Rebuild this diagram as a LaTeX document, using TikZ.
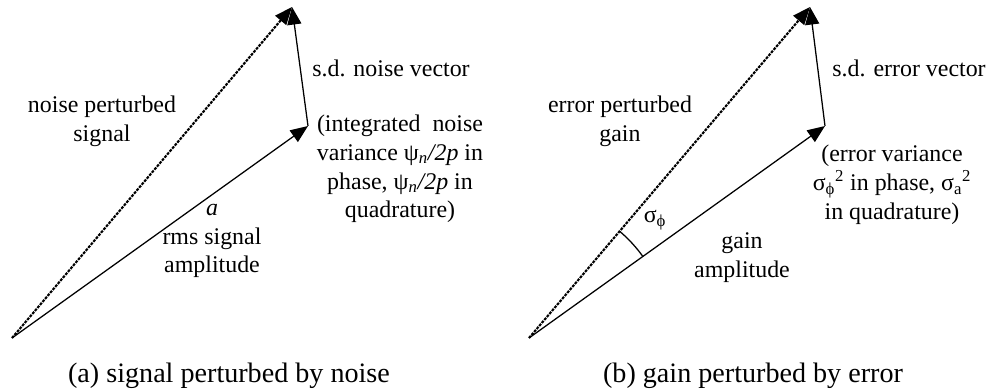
\documentclass[tikz,border=0pt]{standalone}
\usepackage{fontspec}
\setmainfont{Liberation Serif}
\usetikzlibrary{calc, positioning}
\usetikzlibrary{angles, quotes}
\usetikzlibrary{arrows.meta}

\tikzset{
  vec/.style={-{Triangle[length=12.5pt, width=10pt]}, line width=0.9pt},
  pvec/.style={vec, dash pattern=on 2pt off 0.8pt, line width=1.5pt},
  lbl/.style={align=center, font=\fontsize{17}{20.5}\selectfont, inner sep=0pt},
  capt/.style={font=\fontsize{20}{24}\selectfont, inner sep=0pt},
}

\begin{document}
\begin{tikzpicture}[x=0.025cm, y=-0.025cm]
\useasboundingbox (0,0) rectangle (990,392);

% (a) signal with noise
\coordinate (Oa) at (12,338);
\coordinate (Sa) at (308,126);
\coordinate (Pa) at (292,7);

\draw[vec] (Oa) -- (Sa);
\draw[vec] (Sa) -- (Pa);
\draw[pvec] (Oa) -- (Pa);

\node[lbl] (npert) at (102,121) {noise perturbed\\signal};
\node[lbl] (sdnoise) at (391,68) {s.d. noise vector};
\node[lbl] (intnoise) at (400,169) {(integrated~ noise\\variance ψ\textsubscript{\textit{n}}\textit{/2p} in\\phase, ψ\textsubscript{\textit{n}}\textit{/2p} in\\quadrature)};
\node[lbl] (rms) at (212,241) {\textit{a}\\rms signal\\amplitude};
\node[capt] (capa) at (229,376) {(a) signal perturbed by noise};

% (b) gain with error
\coordinate (Ob) at (529,338);
\coordinate (Gb) at (825,126);
\coordinate (Pb) at (810,7);

\draw[vec] (Ob) -- (Gb);
\draw[vec] (Gb) -- (Pb);
\draw[pvec] (Ob) -- (Pb);
\pic[draw, line width=0.9pt, angle radius=3.5cm] {angle = Gb--Ob--Pb};

\node[lbl] (epert) at (620,121) {error perturbed\\gain};
\node[lbl] (sderr) at (909,68) {s.d. error vector};
\node[lbl] (errvar) at (892,185) {(error variance\\σ\textsubscript{ϕ}\textsuperscript{2} in phase, σ\textsubscript{a}\textsuperscript{2}\\in quadrature)};
\node[lbl] (sigphi) at (655,220) {σ\textsubscript{ϕ}};
\node[lbl] (gain) at (742,258) {gain\\amplitude};
\node[capt] (capb) at (753,376) {(b) gain perturbed by error};
\end{tikzpicture}
\end{document}
